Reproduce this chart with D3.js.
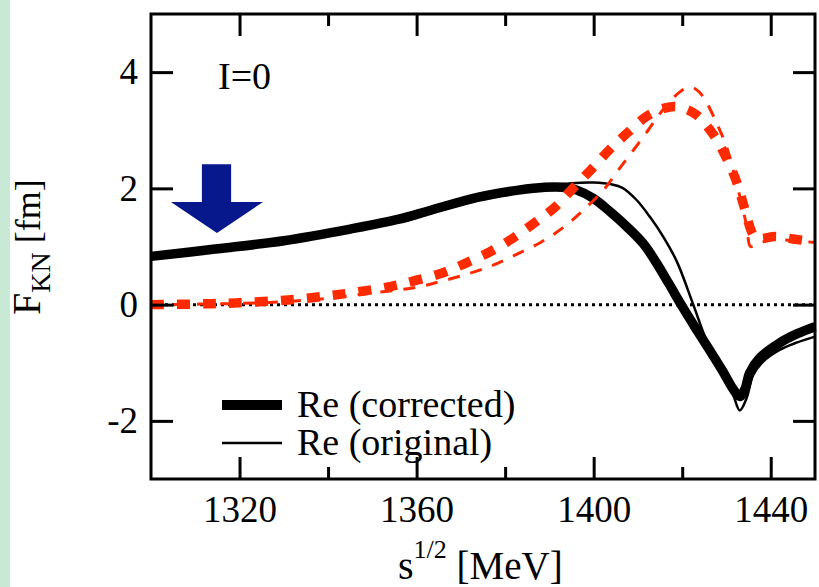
<!DOCTYPE html>
<html>
<head>
<meta charset="utf-8">
<script src="https://cdn.jsdelivr.net/npm/d3@7"></script>
<style>
  body { margin: 0; background: #fff; }
</style>
</head>
<body>
<div id="chart"></div>
<script>
// Data
// ==============================
var xTicksMajor = [1320, 1360, 1400, 1440];
var xTicksMinor = [1340, 1380, 1420];
var yTicks = [-2, 0, 2, 4];

// Re (corrected), thick black
var reCorrE = [1300, 1315, 1330, 1345, 1356, 1363, 1374, 1383, 1389, 1393, 1396.2, 1399.9, 1403.7, 1407.5, 1411.2, 1414, 1417, 1420, 1423, 1426, 1429.2, 1431.5, 1433, 1434.2, 1435.2, 1437.5, 1442, 1446, 1450];
var reCorrF = [0.83, 0.96, 1.10, 1.30, 1.47, 1.62, 1.85, 1.97, 2.02, 2.02, 1.97, 1.83, 1.60, 1.34, 1.05, 0.74, 0.36, -0.03, -0.40, -0.76, -1.15, -1.45, -1.58, -1.45, -1.18, -0.92, -0.66, -0.50, -0.38];

// Re (original), thin black
var reOrigE = [1300, 1315, 1330, 1345, 1356, 1363, 1374, 1383, 1390, 1395, 1400, 1404, 1406.5, 1409.7, 1412.7, 1415.7, 1418.8, 1422.5, 1425.5, 1429.2, 1431.5, 1433, 1434.5, 1436, 1438, 1442, 1446, 1450];
var reOrigF = [0.83, 0.96, 1.10, 1.30, 1.47, 1.62, 1.85, 1.96, 2.05, 2.09, 2.10, 2.07, 2.01, 1.80, 1.51, 1.17, 0.74, 0.0, -0.62, -1.18, -1.55, -1.82, -1.62, -1.22, -1.0, -0.78, -0.65, -0.55];

// corrected, thick red dashes
var imCorrE = [1300, 1310, 1319, 1331, 1343, 1354, 1360, 1366, 1371, 1376.6, 1381.7, 1386.5, 1391.3, 1395.3, 1399.5, 1403.5, 1407.7, 1412, 1416, 1418.5, 1421, 1423.3, 1427, 1430, 1432.3, 1434, 1435.7, 1436.6, 1438, 1441, 1445, 1450];
var imCorrF = [0.0, 0.01, 0.03, 0.08, 0.18, 0.31, 0.42, 0.55, 0.71, 0.91, 1.14, 1.40, 1.68, 2.0, 2.33, 2.66, 2.96, 3.24, 3.38, 3.41, 3.36, 3.26, 2.93, 2.52, 2.11, 1.68, 1.25, 1.15, 1.14, 1.17, 1.13, 1.08];

// original, thin red dashes
var imOrigE = [1300, 1320, 1330, 1340, 1350, 1360, 1366, 1372, 1377.3, 1382.7, 1388, 1393, 1397, 1402.2, 1405.6, 1409, 1412.3, 1415, 1417.5, 1419.5, 1421.4, 1423, 1424.7, 1427.8, 1430, 1431.9, 1433.4, 1434.6, 1435.4, 1436.5, 1440, 1445, 1450];
var imOrigF = [0.0, 0.02, 0.05, 0.11, 0.2, 0.3, 0.41, 0.54, 0.68, 0.87, 1.07, 1.32, 1.58, 1.97, 2.32, 2.66, 3.00, 3.29, 3.52, 3.66, 3.74, 3.71, 3.58, 3.12, 2.72, 2.20, 1.74, 1.34, 1.0, 1.02, 1.12, 1.10, 1.07];

// Arrow annotation (data units)
var arrowE = [1311.5, 1318.1, 1318.1, 1325.3, 1314.9, 1304.5, 1311.5];
var arrowF = [2.415, 2.415, 1.765, 1.765, 1.232, 1.765, 1.765];

var legendLabels = ["Re (corrected)", "Re (original)"];

var serif = '"Liberation Serif", "Tinos", "Times New Roman", "DejaVu Serif", serif';

// SVG area
// ==============================
var svgWidth = 819;
var svgHeight = 587;
var margin = { top: 14, right: 4, bottom: 108, left: 151 };
var width = svgWidth - margin.left - margin.right;
var height = svgHeight - margin.top - margin.bottom;

var svg = d3.select("#chart")
  .append("svg")
  .attr("width", svgWidth)
  .attr("height", svgHeight)
  .style("font-family", serif);

// light green strip on the left edge
svg.append("rect")
  .attr("x", 0).attr("y", 0)
  .attr("width", 10).attr("height", svgHeight)
  .attr("fill", "#c9e9d7");

var chartGroup = svg.append("g")
  .attr("transform", `translate(${margin.left}, ${margin.top})`);

// Scales
var xScale = d3.scaleLinear().domain([1300, 1450]).range([0, width]);
var yScale = d3.scaleLinear().domain([-3, 5]).range([height, 0]);

function zip(es, fs) {
  return es.map((e, i) => ({ e: e, f: fs[i] }));
}

var line = d3.line()
  .x(d => xScale(d.e))
  .y(d => yScale(d.f))
  .curve(d3.curveCatmullRom.alpha(0.5));

// zero line (dotted)
chartGroup.append("line")
  .attr("x1", xScale(1300)).attr("x2", xScale(1450))
  .attr("y1", yScale(0)).attr("y2", yScale(0))
  .attr("stroke", "#000")
  .attr("stroke-width", 3)
  .attr("stroke-dasharray", "3,4");

// Curves
chartGroup.append("path")
  .datum(zip(reOrigE, reOrigF))
  .attr("d", line)
  .attr("fill", "none")
  .attr("stroke", "#000")
  .attr("stroke-width", 2.5);

chartGroup.append("path")
  .datum(zip(reCorrE, reCorrF))
  .attr("d", line)
  .attr("fill", "none")
  .attr("stroke", "#000")
  .attr("stroke-width", 9.5);

chartGroup.append("path")
  .datum(zip(imOrigE, imOrigF))
  .attr("d", line)
  .attr("fill", "none")
  .attr("stroke", "#ff2a00")
  .attr("stroke-width", 3)
  .attr("stroke-dasharray", "12,11");

chartGroup.append("path")
  .datum(zip(imCorrE, imCorrF))
  .attr("d", line)
  .attr("fill", "none")
  .attr("stroke", "#ff2a00")
  .attr("stroke-width", 9.5)
  .attr("stroke-dasharray", "13,13");

// Arrow
chartGroup.append("path")
  .datum(zip(arrowE, arrowF))
  .attr("d", d3.line().x(d => xScale(d.e)).y(d => yScale(d.f)))
  .attr("fill", "#06188c");

// Axes (ticks pointing inward on all four sides)
// ==============================
var fmt = d => String(d);

function styleAxis(g) {
  g.attr("font-family", serif);
  g.select(".domain").remove();
  g.selectAll(".tick line").attr("stroke", "#000").attr("stroke-width", 3);
  g.selectAll(".tick text")
    .style("font-family", serif)
    .style("font-size", "37px")
    .attr("fill", "#000");
}

chartGroup.append("g")
  .attr("transform", `translate(0, ${height})`)
  .call(d3.axisBottom(xScale).tickValues(xTicksMajor).tickFormat(fmt).tickSize(-22).tickSizeOuter(0).tickPadding(17))
  .call(styleAxis);
chartGroup.append("g")
  .attr("transform", `translate(0, ${height})`)
  .call(d3.axisBottom(xScale).tickValues(xTicksMinor).tickFormat("").tickSize(-12).tickSizeOuter(0))
  .call(styleAxis);
chartGroup.append("g")
  .call(d3.axisTop(xScale).tickValues(xTicksMajor).tickFormat("").tickSize(-22).tickSizeOuter(0))
  .call(styleAxis);
chartGroup.append("g")
  .call(d3.axisTop(xScale).tickValues(xTicksMinor).tickFormat("").tickSize(-12).tickSizeOuter(0))
  .call(styleAxis);
chartGroup.append("g")
  .call(d3.axisLeft(yScale).tickValues(yTicks).tickFormat(fmt).tickSize(-22).tickSizeOuter(0).tickPadding(13))
  .call(styleAxis);
chartGroup.append("g")
  .attr("transform", `translate(${width}, 0)`)
  .call(d3.axisRight(yScale).tickValues(yTicks).tickFormat("").tickSize(-22).tickSizeOuter(0))
  .call(styleAxis);

// frame
chartGroup.append("rect")
  .attr("x", 0).attr("y", 0)
  .attr("width", width).attr("height", height)
  .attr("fill", "none")
  .attr("stroke", "#000")
  .attr("stroke-width", 3);

// I=0 label
chartGroup.append("text")
  .attr("x", 67).attr("y", 75)
  .style("font-size", "38px")
  .text("I=0");

// Legend
var legend = chartGroup.append("g").attr("transform", "translate(71, 391)");
[10, 2.5].forEach(function(w, i) {
  legend.append("line")
    .attr("x1", 0).attr("x2", 60)
    .attr("y1", i * 38).attr("y2", i * 38)
    .attr("stroke", "#000")
    .attr("stroke-width", w);
  legend.append("text")
    .attr("x", 75).attr("y", i * 38 + 12)
    .style("font-size", "38px")
    .text(legendLabels[i]);
});

// Axis titles
// ==============================
var xTitle = svg.append("text")
  .attr("x", 398).attr("y", 579)
  .style("font-size", "40px");
xTitle.append("tspan").text("s");
xTitle.append("tspan").attr("dy", -21).style("font-size", "26px").text("1/2");
xTitle.append("tspan").attr("dy", 21).style("font-size", "39px").text(" [MeV]");

var yTitle = svg.append("text")
  .attr("transform", "translate(40, 315) rotate(-90)")
  .style("font-size", "40px");
yTitle.append("tspan").text("F");
yTitle.append("tspan").attr("dy", 10).style("font-size", "28px").text("KN");
yTitle.append("tspan").attr("dy", -10).style("font-size", "36px").text(" [fm]");
</script>
</body>
</html>
